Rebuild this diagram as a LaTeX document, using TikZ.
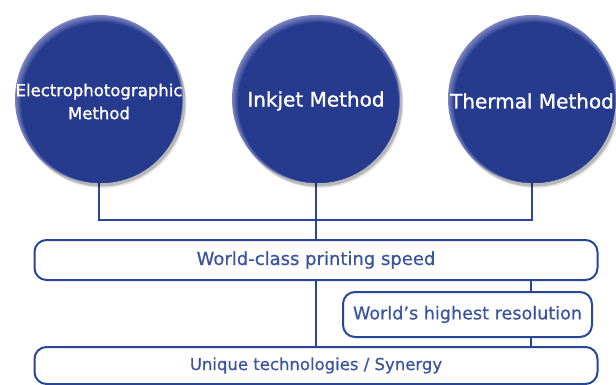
\documentclass[tikz,border=0pt]{standalone}
\usepackage{fontspec}
\setmainfont{DejaVu Sans}
\newfontfamily\circfont[FakeBold=1.2]{DejaVu Sans}
\newfontfamily\boxfont[FakeBold=0.6]{DejaVu Sans}
\usetikzlibrary{shadows,calc}
\definecolor{navy}{RGB}{38,58,142}
\definecolor{rim}{RGB}{120,130,192}
\definecolor{linecol}{RGB}{42,70,152}
\definecolor{boxtext}{RGB}{58,84,160}
\tikzset{
  method/.style={circle, minimum size=168pt, inner sep=0pt},
  conn/.style={draw=linecol, line width=2pt},
  pill/.style={draw=linecol, line width=2pt, rounded corners=12pt, fill=white,
    text=boxtext, inner sep=0pt},
  ctext/.style={text=white, align=center},
}
\newcommand{\button}[1]{%
  \fill[black, opacity=0.20] ($(#1)+(2.5,3.5)$) circle (84);
  \fill[black, opacity=0.10] ($(#1)+(3.5,5)$) circle (84);
  \fill[rim] (#1) circle (84);
  \fill[rim!80!navy] ($(#1)+(0.5,0.8)$) circle (83.2);
  \fill[rim!60!navy] ($(#1)+(1.0,1.6)$) circle (82.4);
  \fill[rim!40!navy] ($(#1)+(1.5,2.3)$) circle (81.6);
  \fill[rim!20!navy] ($(#1)+(2.0,3.0)$) circle (80.9);
  \fill[navy] ($(#1)+(2.4,3.6)$) circle (80.3);
}
\begin{document}
\begin{tikzpicture}[x=1pt,y=-1pt]
\useasboundingbox (0,0) rectangle (616,385);
\coordinate (p1) at (99,99);
\coordinate (p2) at (316,99);
\coordinate (p3) at (532,99);
\node[method] (c1) at (p1) {};
\node[method] (c2) at (p2) {};
\node[method] (c3) at (p3) {};
\coordinate (bus) at (316,220);
\draw[conn] (c1.south) |- (bus) -| (c3.south);
\draw[conn] (c2.south) -- (bus);
\button{p1}
\button{p2}
\button{p3}
\node[ctext, font=\circfont\fontsize{16.5}{23}\selectfont] (t1) at (99,101.5) {Electrophotographic\\Method};
\node[ctext, font=\circfont\fontsize{20}{24}\selectfont] (t2) at (316,101) {Inkjet Method};
\node[ctext, font=\circfont\fontsize{20}{24}\selectfont] (t3) at (532,101) {Thermal Method};
\node[pill, minimum width=563pt, minimum height=40pt, font=\boxfont\fontsize{18}{22}\selectfont] (b1) at (316,260) {World-class printing speed};
\node[pill, minimum width=249pt, minimum height=45pt, font=\boxfont\fontsize{17.6}{22}\selectfont] (b2) at (467.5,314.5) {World’s highest resolution};
\node[pill, minimum width=563pt, minimum height=37pt, font=\boxfont\fontsize{16.5}{20}\selectfont] (b3) at (316,365.5) {Unique technologies / Synergy};
\coordinate (rx) at (531,0);
\draw[conn] (bus) -- (b1.north);
\draw[conn] (b1.south) -- (b3.north);
\draw[conn] (b1.south -| rx) -- (b2.north -| rx);
\draw[conn] (b2.south -| rx) -- (b3.north -| rx);
\end{tikzpicture}
\end{document}
